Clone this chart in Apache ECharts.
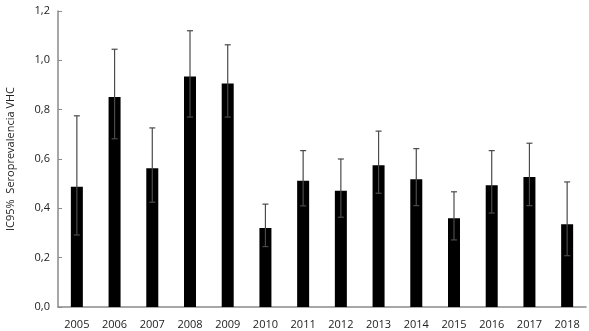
<!DOCTYPE html>
<html>
<head>
<meta charset="utf-8">
<script src="https://cdn.jsdelivr.net/npm/echarts@6/dist/echarts.min.js"></script>
<style>
  html, body { margin: 0; padding: 0; background: #fff; }
  #chart { width: 589px; height: 331px; }
</style>
</head>
<body>
<div id="chart"></div>
<script>
// years and seroprevalence (IC95%)
var years = ['2005', '2006', '2007', '2008', '2009', '2010', '2011', '2012', '2013', '2014', '2015', '2016', '2017', '2018'];
var prev  = [0.488, 0.851, 0.563, 0.934, 0.906, 0.320, 0.512, 0.471, 0.575, 0.518, 0.360, 0.494, 0.527, 0.335];
var lower = [0.292, 0.682, 0.425, 0.770, 0.770, 0.245, 0.410, 0.364, 0.461, 0.411, 0.272, 0.381, 0.411, 0.208];
var upper = [0.775, 1.045, 0.726, 1.120, 1.063, 0.417, 0.634, 0.600, 0.713, 0.642, 0.467, 0.634, 0.664, 0.507];

var errData = years.map(function (y, i) { return [i, lower[i], upper[i]]; });

var myChart = echarts.init(document.getElementById('chart'));
var axisColor = '#8a8a8a';
var font = '"Open Sans", sans-serif';

myChart.setOption({
  animation: false,
  grid: { left: 58, right: 3, top: 11, bottom: 24, outerBoundsMode: 'none' },
  xAxis: {
    type: 'category',
    data: years,
    axisTick: { show: false },
    axisLine: { lineStyle: { color: axisColor, width: 1.5 } },
    axisLabel: { color: '#222', fontSize: 11, fontFamily: font, margin: 12 }
  },
  yAxis: {
    type: 'value',
    min: 0, max: 1.2, interval: 0.2,
    name: 'IC95%  Seroprevalencia VHC',
    nameLocation: 'middle',
    nameGap: 42,
    nameTextStyle: { color: '#222', fontSize: 11, fontFamily: font },
    splitLine: { show: false },
    axisLine: { show: true, lineStyle: { color: axisColor, width: 1.5 } },
    axisTick: { show: true, inside: true, length: 4, lineStyle: { color: axisColor } },
    axisLabel: {
      color: '#222', fontSize: 11, fontFamily: font, margin: 8,
      formatter: function (v) { return v.toFixed(1).replace('.', ','); }
    }
  },
  series: [
    {
      type: 'bar',
      data: prev,
      barWidth: 12,
      itemStyle: { color: '#000' }
    },
    {
      type: 'custom',
      data: errData,
      z: 10,
      renderItem: function (params, api) {
        var i = api.value(0);
        var lo = api.coord([i, api.value(1)]);
        var hi = api.coord([i, api.value(2)]);
        var half = 3;
        var style = { stroke: '#4a4a4a', lineWidth: 1.2 };
        return {
          type: 'group',
          children: [
            { type: 'line', shape: { x1: hi[0], y1: hi[1], x2: lo[0], y2: lo[1] }, style: style },
            { type: 'line', shape: { x1: hi[0] - half, y1: hi[1], x2: hi[0] + half, y2: hi[1] }, style: style },
            { type: 'line', shape: { x1: lo[0] - half, y1: lo[1], x2: lo[0] + half, y2: lo[1] }, style: style }
          ]
        };
      }
    }
  ]
});
</script>
</body>
</html>
